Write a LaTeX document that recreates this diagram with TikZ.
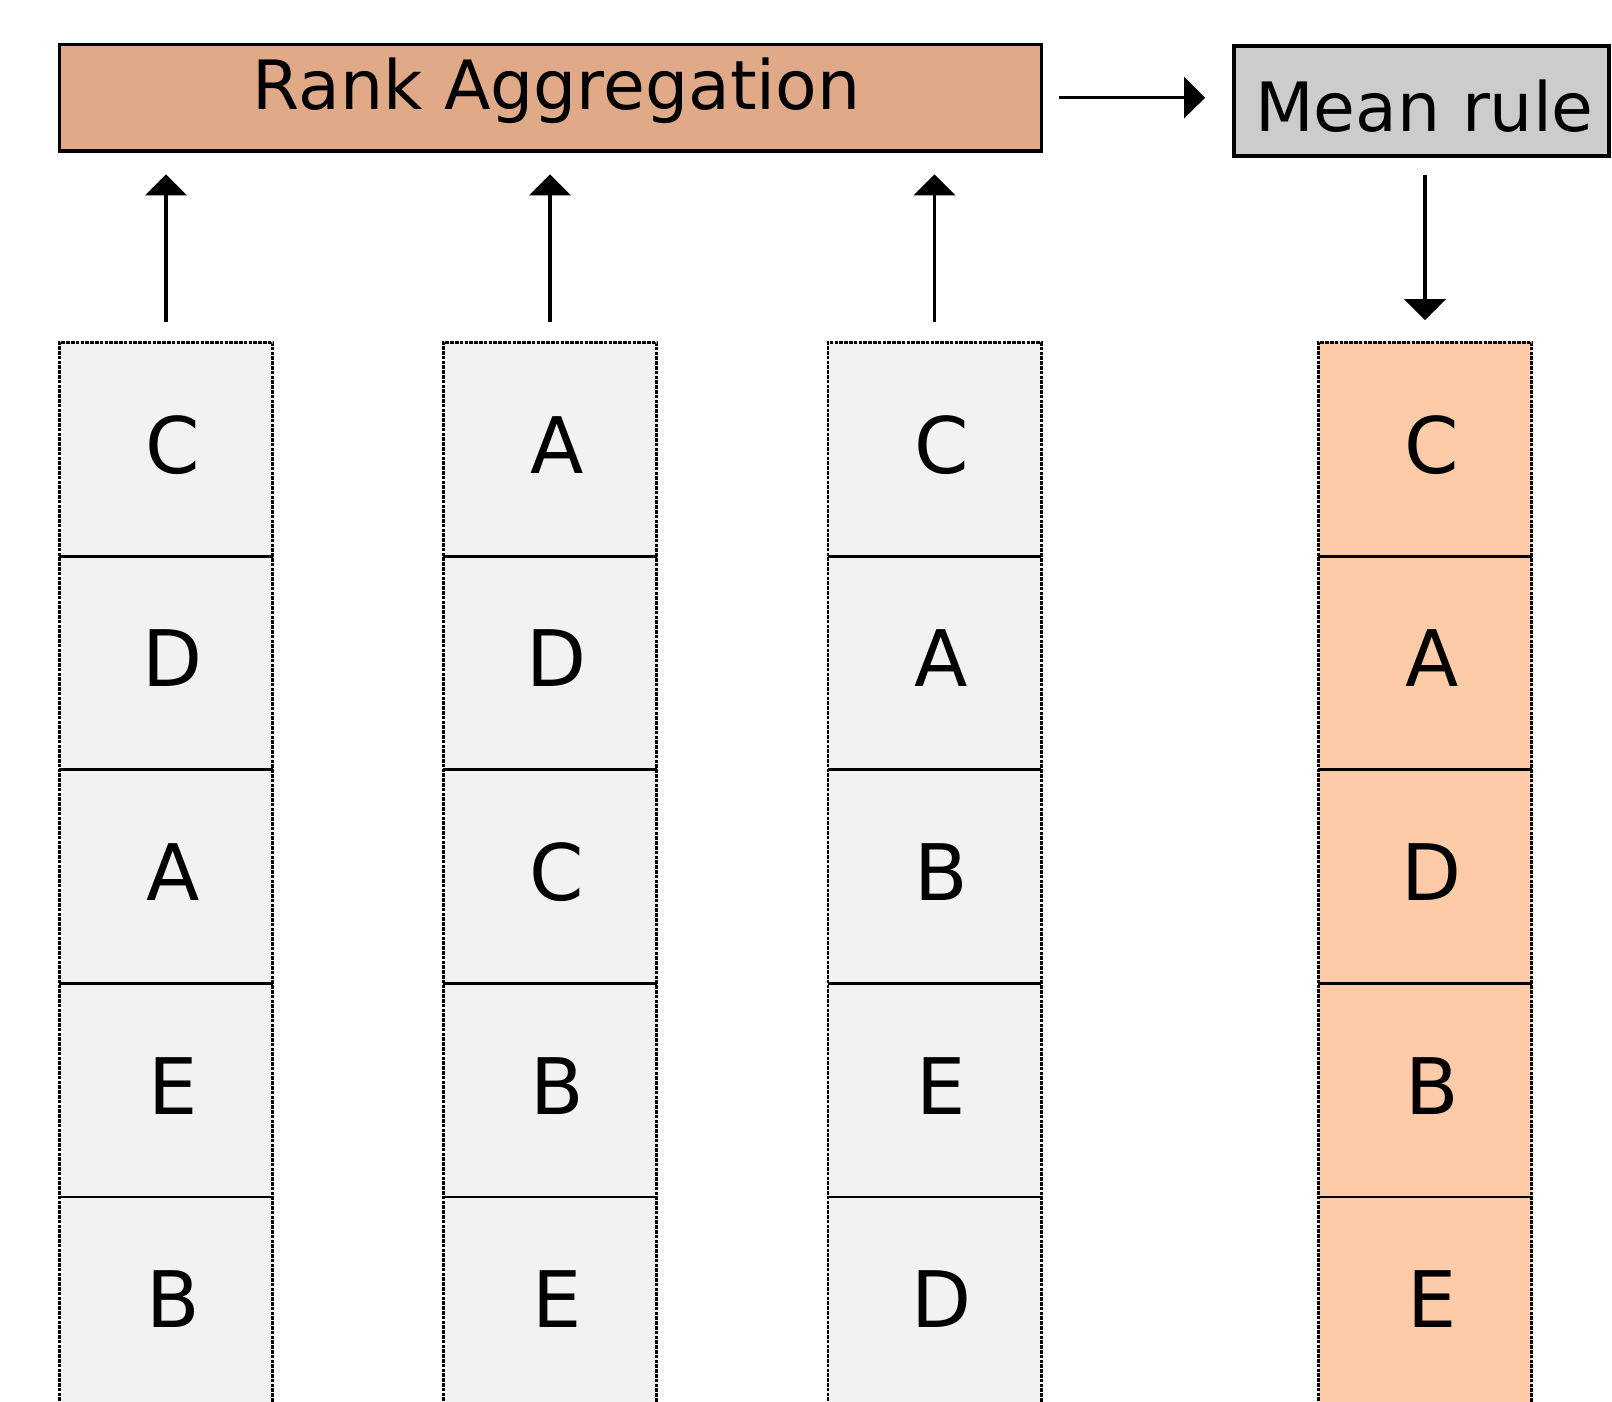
\documentclass[tikz,border=0pt]{standalone}
\usepackage{fontspec}
\setmainfont{DejaVu Sans}
\usetikzlibrary{arrows.meta,calc}
\definecolor{rankfill}{HTML}{E0AA88}
\definecolor{meanfill}{HTML}{CCCCCC}
\definecolor{cellfill}{HTML}{F2F2F2}
\definecolor{outfill}{HTML}{FDCBA7}
\begin{document}
\begin{tikzpicture}[x=1pt,y=-1pt,
  box/.style={draw=black,line width=3.3pt,inner sep=0pt},
  cell/.style={inner sep=0pt,minimum width=213pt,minimum height=213.6pt},
  letter/.style={anchor=base,inner sep=0pt,font=\fontsize{78}{90}\selectfont},
  title/.style={anchor=base,inner sep=0pt,font=\fontsize{68}{80}\selectfont},
  flow/.style={line width=3.2pt,-{Triangle[width=41pt,length=21pt]}},
  sep/.style={line width=2.8pt},
  outline/.style={line width=2.6pt,dash pattern=on 3.6pt off 1.2pt}]
\clip (0,0) rectangle (1612,1402);
\fill[white] (0,0) rectangle (1612,1402);
% top boxes
\node[box,fill=rankfill,minimum width=981.9pt,minimum height=106.9pt] (rank) at (550.5,97.65) {};
\node[title] (ranktext) at (556.5,110) {Rank Aggregation};
\node[box,fill=meanfill,line width=4pt,minimum width=375.3pt,minimum height=110pt] (mean) at (1421.3,101.3) {};
\node[title] (meantext) at (1424.5,131.6) {Mean rule};
% columns
\foreach \cx/\fc/\la/\lb/\lc/\ld/\le [count=\ci] in {166/cellfill/C/D/A/E/B, 550/cellfill/A/D/C/B/E, 934.5/cellfill/C/A/B/E/D, 1425/outfill/C/A/D/B/E} {
  \foreach \l [count=\ri] in {\la,\lb,\lc,\ld,\le} {
    \node[cell,fill=\fc] (c\ci r\ri) at (\cx,{342.4+213.6*(\ri-0.5)}) {};
    \node[letter] (t\ci r\ri) at ($(c\ci r\ri.north)+(7,131)$) {\l};
  }
  \draw[outline] (c\ci r5.south west) -- (c\ci r1.north west) -- (c\ci r1.north east) -- (c\ci r5.south east);
  \foreach \ri in {1,...,4} \draw[sep] (c\ci r\ri.south west) -- (c\ci r\ri.south east);
}
% arrows
\foreach \ci in {1,2,3} \draw[flow,shorten <=20.6pt,shorten >=21.5pt] (c\ci r1.north) -- (c\ci r1.north |- rank.south);
\draw[flow,shorten <=16pt,shorten >=26.5pt] (rank.east) -- (rank.east -| mean.west);
\draw[flow,shorten <=16.4pt,shorten >=22pt] (mean.south -| c4r1.north) -- (c4r1.north);
\end{tikzpicture}
\end{document}
